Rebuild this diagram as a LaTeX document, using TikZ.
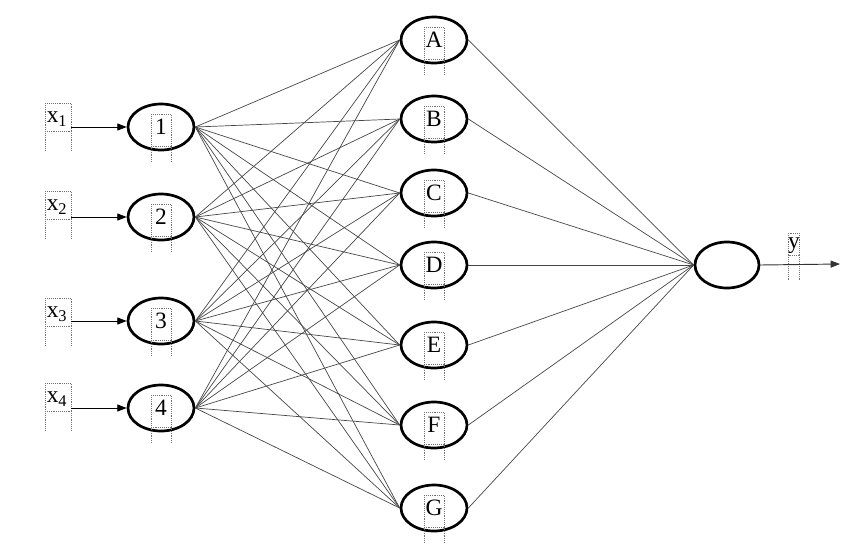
\documentclass[tikz,border=0pt]{standalone}
\usepackage{fontspec}
\setmainfont{Liberation Serif}
\usetikzlibrary{shapes.geometric,arrows.meta,calc}
\begin{document}
\begin{tikzpicture}[x=0.03cm,y=-0.03cm,
  neuron/.style={draw=black,line width=2.3pt,ellipse,minimum width=1.98cm,minimum height=1.38cm,inner sep=0pt,font=\fontsize{20}{20}\selectfont},
  conn/.style={draw=black!72,line width=0.6pt},
  frame/.style={draw=black!55,densely dotted,line width=0.6pt},
  lbl/.style={inner sep=0pt,font=\fontsize{20}{20}\selectfont},
  inarrow/.style={draw=black,line width=0.8pt,-{Triangle[length=8pt,width=6pt]}}]
\useasboundingbox (0,0) rectangle (850,553);

% input neurons
\node[neuron] (n1) at (161,127) {1};
\node[neuron] (n2) at (161,217) {2};
\node[neuron] (n3) at (161,321) {3};
\node[neuron] (n4) at (161,408) {4};

% hidden neurons
\node[neuron] (hA) at (434,40) {A};
\node[neuron] (hB) at (434,119) {B};
\node[neuron] (hC) at (434,193) {C};
\node[neuron] (hD) at (434,265) {D};
\node[neuron] (hE) at (434,345) {E};
\node[neuron] (hF) at (434,425) {F};
\node[neuron] (hG) at (434,508) {G};

% output neuron
\node[neuron,minimum width=1.92cm] (out) at (727,265) {};

% input labels
\node[lbl] (x1) at (57,119) {x\textsubscript{1}};
\node[lbl] (x2) at (57,207) {x\textsubscript{2}};
\node[lbl] (x3) at (57,314) {x\textsubscript{3}};
\node[lbl] (x4) at (57,399) {x\textsubscript{4}};
\node[lbl] (y) at (794,246) {y};
\coordinate (yend) at (840,264);

% arrow start points (right edge of the label boxes)
\coordinate (s1) at (71,127);
\coordinate (s2) at (71,217);
\coordinate (s3) at (71,321);
\coordinate (s4) at (71,408);

% dotted text-box frames
\foreach \n in {n1,n2,n3,n4,hA,hB,hC,hD,hE,hF,hG}{
  \draw[frame] ($(\n.center)+(-10,-13)$) rectangle ($(\n.center)+(10,19)$);
  \draw[frame] ($(\n.center)+(-10,19)$) -- ($(\n.center)+(-10,35)$);
  \draw[frame] ($(\n.center)+(10,19)$) -- ($(\n.center)+(10,35)$);
}
\foreach \n in {x1,x2,x3,x4}{
  \draw[frame] ($(\n.center)+(-12,-16)$) rectangle ($(\n.center)+(14,12)$);
  \draw[frame] ($(\n.center)+(-12,12)$) -- ($(\n.center)+(-12,31)$);
  \draw[frame] ($(\n.center)+(14,12)$) -- ($(\n.center)+(14,31)$);
}
\draw[frame] ($(y.center)+(-6,-13)$) rectangle ($(y.center)+(5,9)$);
\draw[frame] ($(y.center)+(-6,9)$) -- ($(y.center)+(-6,34)$);
\draw[frame] ($(y.center)+(5,9)$) -- ($(y.center)+(5,34)$);

% input arrows
\foreach \i in {1,2,3,4}{
  \draw[inarrow] (s\i) -- (n\i.west);
}

% input -> hidden
\foreach \i in {1,2,3,4}{
  \foreach \h in {A,B,C,D,E,F,G}{
    \draw[conn] (n\i.east) -- (h\h.west);
  }
}
% hidden -> output
\foreach \h in {A,B,C,D,E,F,G}{
  \draw[conn] (h\h.east) -- (out.west);
}
% output arrow
\draw[inarrow,draw=black!80] (out.east) -- (yend);
\end{tikzpicture}
\end{document}
